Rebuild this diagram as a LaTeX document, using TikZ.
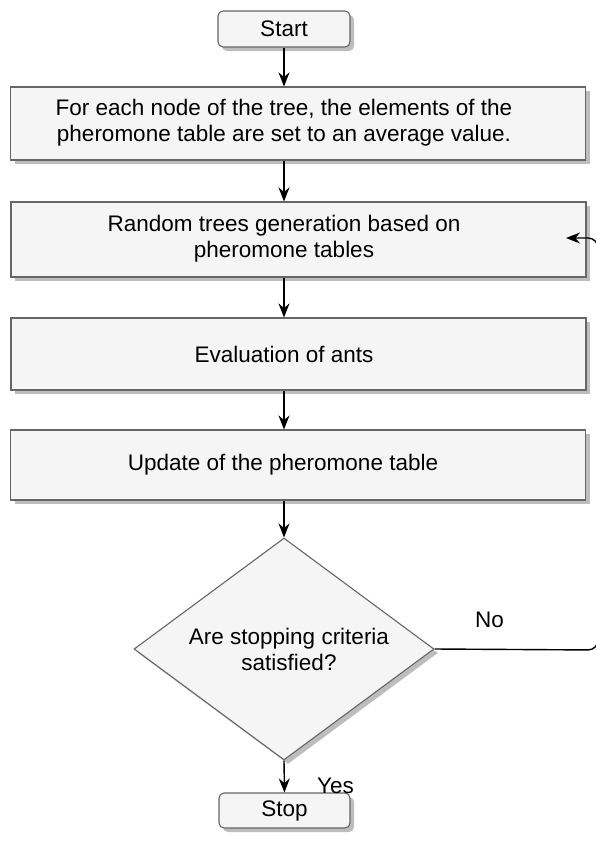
\documentclass[tikz,border=0pt]{standalone}
\usepackage{fontspec}
\setmainfont{Liberation Sans}
\usetikzlibrary{shapes.geometric,shadows,arrows.meta}
\definecolor{boxfill}{HTML}{F5F5F5}
\definecolor{boxline}{HTML}{666666}
\definecolor{shade}{HTML}{BDBDBD}
\begin{document}
\begin{tikzpicture}[x=1pt,y=-1pt,
  txt/.style={font=\fontsize{22.5}{26}\selectfont, align=center, inner sep=0pt},
  base/.style={draw=boxline, fill=boxfill, line width=1.1pt, txt,
    drop shadow={shadow xshift=4pt, shadow yshift=-4pt, fill=shade, opacity=1}},
  term/.style={base, rounded corners=5pt, minimum width=132pt, minimum height=36pt},
  proc/.style={base, minimum width=575pt, minimum height=72pt},
  dec/.style={base, diamond, minimum width=300pt, minimum height=222pt},
  flow/.style={-{Stealth[length=14pt,width=11pt]}, line width=1.4pt, black}]
\useasboundingbox (0,0) rectangle (595,860);
\node[term] (st) at (284,29) {Start};
\node[proc, minimum height=73pt] (b1) at (298,123.5) {};
\node[txt] (b1t) at (284,123) {For each node of the tree, the elements of the\\pheromone table are set to an average value.};
\node[proc, minimum height=75pt] (b2) at (298.5,239.5) {};
\node[txt] (b2t) at (284,239) {Random trees generation based on\\pheromone tables};
\node[proc] (b3) at (298.5,354) {};
\node[txt] (b3t) at (284,354) {Evaluation of ants};
\node[proc, minimum height=70pt] (b4) at (298,465) {};
\node[txt] (b4t) at (283,465) {Update of the pheromone table};
\node[dec] (d) at (284,649) {};
\node[txt] (dt) at (289,649) {Are stopping criteria\\satisfied?};
\node[term, minimum width=131pt, minimum height=35pt] (sp) at (284.5,810.5) {Stop};
\coordinate (back) at (566,238);
\draw[flow] (st.south) -- (st |- b1.north);
\draw[flow] (st |- b1.south) -- (st |- b2.north);
\draw[flow] (st |- b2.south) -- (st |- b3.north);
\draw[flow] (st |- b3.south) -- (st |- b4.north);
\draw[flow] (st |- b4.south) -- (d.north);
\draw[flow] (d.south) -- (sp.north);
\draw[flow, rounded corners=10pt] (d.east) -- (598,650) -- (598,238) -- (back);
\node[txt] (yes) at (335.5,786) {Yes};
\node[txt] (no) at (489.5,620) {No};
\end{tikzpicture}
\end{document}
